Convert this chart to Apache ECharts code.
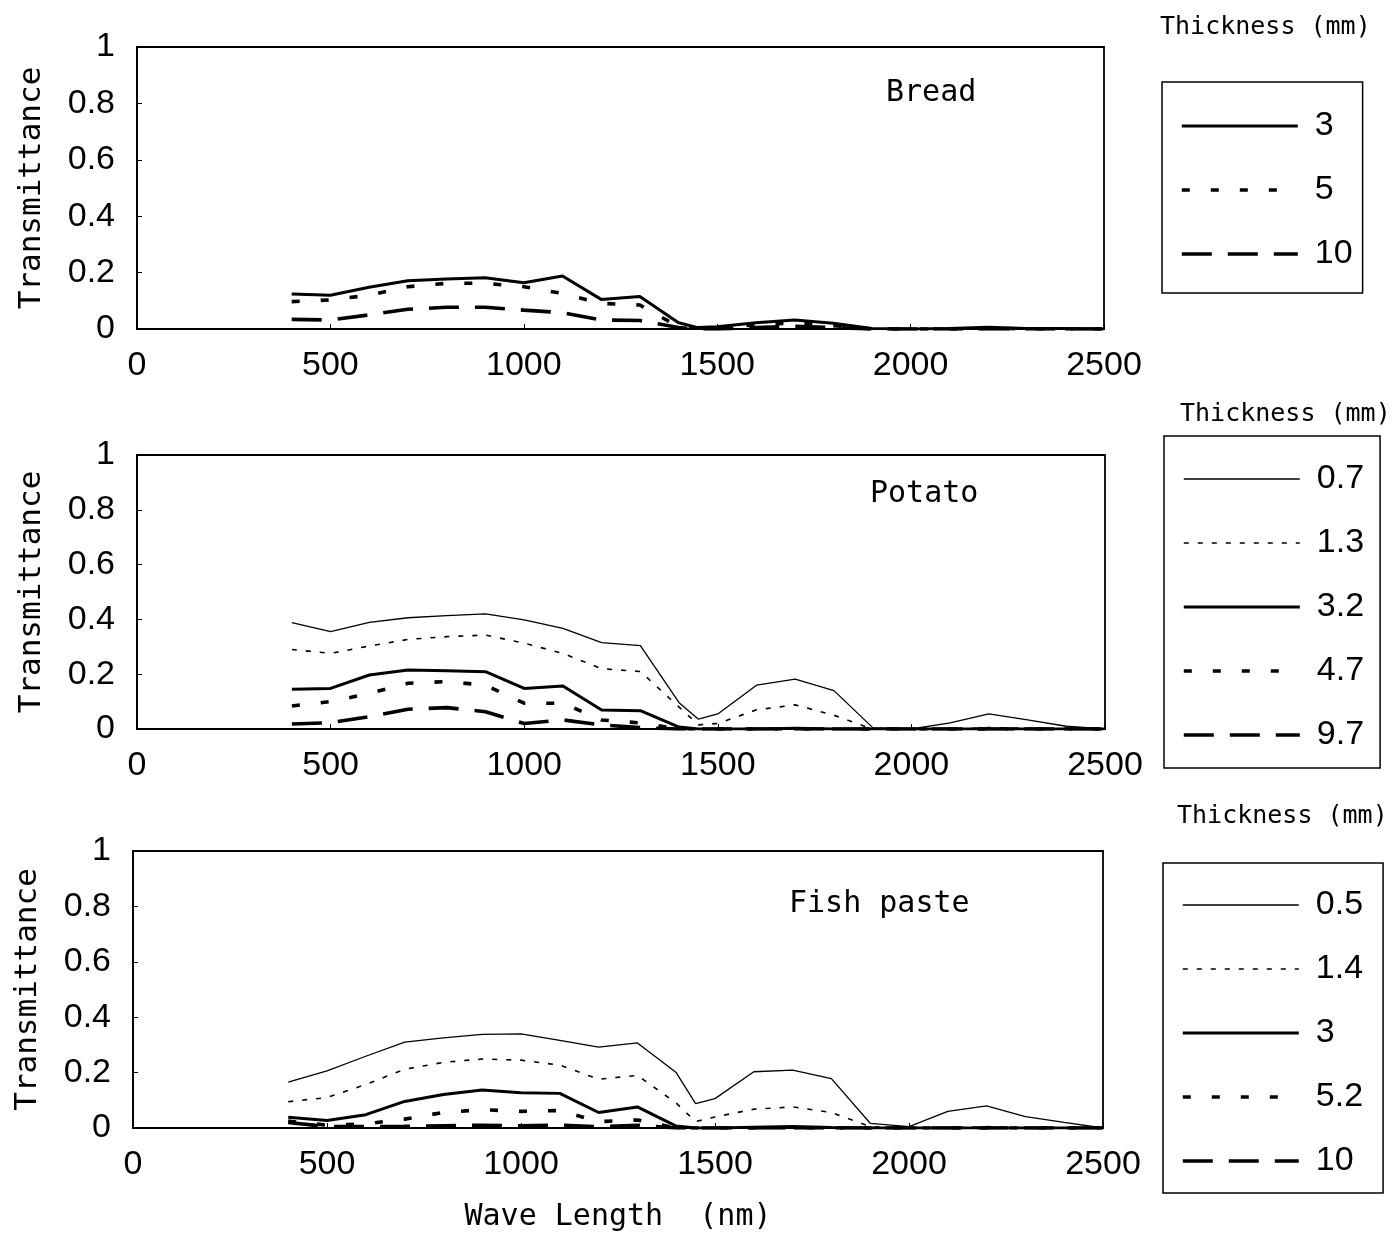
<!DOCTYPE html>
<html>
<head>
<meta charset="utf-8">
<script src="https://cdn.jsdelivr.net/npm/echarts@6/dist/echarts.min.js"></script>
<style>
  html, body { margin: 0; padding: 0; background: #fff; }
  #chart { width: 1400px; height: 1238px; }
</style>
</head>
<body>
<div id="chart"></div>
<script>
// Wavelengths (nm) at which transmittance was measured
const wavelengths = [400, 500, 600, 700, 800, 900, 1000, 1100, 1200, 1300, 1400, 1450, 1500,
                     1600, 1700, 1800, 1900, 2000, 2100, 2200, 2300, 2400, 2500];

// Bread, thickness 3 / 5 / 10 mm
const bread3  = [0.124, 0.120, 0.148, 0.171, 0.177, 0.182, 0.164, 0.188, 0.105, 0.115, 0.022, 0.005, 0.008,
                 0.022, 0.032, 0.020, 0.002, 0.000, 0.002, 0.006, 0.002, 0.002, 0.000];
const bread5  = [0.097, 0.103, 0.120, 0.150, 0.162, 0.162, 0.150, 0.126, 0.091, 0.085, 0.008, 0.003, 0.004,
                 0.015, 0.022, 0.012, 0.000, 0.000, 0.000, 0.003, 0.000, 0.000, 0.000];
const bread10 = [0.034, 0.032, 0.050, 0.070, 0.077, 0.077, 0.067, 0.058, 0.032, 0.030, 0.005, 0.000, 0.000,
                 0.005, 0.010, 0.005, 0.000, 0.000, 0.000, 0.000, 0.000, 0.000, 0.000];

// Potato, thickness 0.7 / 1.3 / 3.2 / 4.7 / 9.7 mm
const potato07 = [0.388, 0.355, 0.389, 0.406, 0.414, 0.420, 0.398, 0.367, 0.315, 0.304, 0.096, 0.036, 0.055,
                  0.160, 0.182, 0.140, 0.005, 0.000, 0.022, 0.055, 0.033, 0.010, 0.000];
const potato13 = [0.290, 0.276, 0.303, 0.327, 0.337, 0.343, 0.313, 0.276, 0.220, 0.210, 0.080, 0.015, 0.020,
                  0.070, 0.088, 0.050, 0.000, 0.000, 0.000, 0.005, 0.003, 0.000, 0.000];
const potato32 = [0.145, 0.148, 0.197, 0.215, 0.213, 0.209, 0.148, 0.157, 0.069, 0.067, 0.007, 0.000, 0.000,
                  0.000, 0.003, 0.000, 0.000, 0.000, 0.000, 0.000, 0.000, 0.000, 0.000];
const potato47 = [0.084, 0.100, 0.130, 0.167, 0.173, 0.160, 0.094, 0.094, 0.033, 0.022, 0.000, 0.000, 0.000,
                  0.000, 0.000, 0.000, 0.000, 0.000, 0.000, 0.000, 0.000, 0.000, 0.000];
const potato97 = [0.018, 0.023, 0.045, 0.072, 0.078, 0.063, 0.020, 0.033, 0.015, 0.005, 0.000, 0.000, 0.000,
                  0.000, 0.000, 0.000, 0.000, 0.000, 0.000, 0.000, 0.000, 0.000, 0.000];

// Fish paste, thickness 0.5 / 1.4 / 3 / 5.2 / 10 mm
const fish05 = [0.166, 0.206, 0.259, 0.310, 0.325, 0.338, 0.340, 0.316, 0.292, 0.307, 0.200, 0.088, 0.106,
                0.203, 0.209, 0.178, 0.017, 0.005, 0.060, 0.080, 0.041, 0.020, 0.000];
const fish14 = [0.095, 0.110, 0.157, 0.212, 0.237, 0.249, 0.245, 0.227, 0.176, 0.190, 0.090, 0.023, 0.040,
                0.068, 0.076, 0.056, 0.005, 0.000, 0.000, 0.005, 0.000, 0.000, 0.000];
const fish3  = [0.039, 0.027, 0.048, 0.096, 0.121, 0.137, 0.127, 0.125, 0.056, 0.076, 0.007, 0.000, 0.000,
                0.003, 0.005, 0.002, 0.000, 0.000, 0.000, 0.000, 0.000, 0.000, 0.000];
const fish52 = [0.025, 0.010, 0.015, 0.032, 0.056, 0.066, 0.060, 0.063, 0.023, 0.029, 0.000, 0.000, 0.000,
                0.000, 0.000, 0.000, 0.000, 0.000, 0.000, 0.000, 0.000, 0.000, 0.000];
const fish10 = [0.020, 0.005, 0.005, 0.006, 0.008, 0.010, 0.008, 0.010, 0.005, 0.010, 0.000, 0.000, 0.000,
                0.000, 0.000, 0.000, 0.000, 0.000, 0.000, 0.000, 0.000, 0.000, 0.000];

// Panel titles and legend labels
const panelTitles = ['Bread', 'Potato', 'Fish paste'];
const breadLabels  = ['3', '5', '10'];
const potatoLabels = ['0.7', '1.3', '3.2', '4.7', '9.7'];
const fishLabels   = ['0.5', '1.4', '3', '5.2', '10'];
const legendTitle = 'Thickness (mm)';
const xAxisTitle = 'Wave Length  (nm)';
const yAxisTitle = 'Transmittance';

// Line looks
const STYLE = {
  thinSolid:  { color: '#000', width: 1.3, type: 'solid' },
  thinDot:    { color: '#000', width: 1.6, type: [5, 9] },
  thickSolid: { color: '#000', width: 3, type: 'solid' },
  thickDash:  { color: '#000', width: 3.6, type: [8, 21] },
  longDash:   { color: '#000', width: 3.6, type: [30, 16] }
};

const WORD_FONT = "'DejaVu Sans Mono', 'Liberation Mono', monospace";
const NUM_FONT = "'Liberation Sans', 'Noto Sans', sans-serif";
const NUM_SIZE = 34;

const panels = [
  { title: panelTitles[0], labels: breadLabels,  values: [bread3, bread5, bread10],
    styles: [STYLE.thickSolid, STYLE.thickDash, STYLE.longDash],
    grid: { left: 137, top: 47, width: 967, height: 282 },
    titlePos: { left: 886, top: 78 }, legendTitlePos: { left: 1160, top: 15 },
    legend: { left: 1162, top: 82, padding: [27, 10, 22, 18] } },
  { title: panelTitles[1], labels: potatoLabels, values: [potato07, potato13, potato32, potato47, potato97],
    styles: [STYLE.thinSolid, STYLE.thinDot, STYLE.thickSolid, STYLE.thickDash, STYLE.longDash],
    grid: { left: 137, top: 455, width: 968, height: 274 },
    titlePos: { left: 870, top: 479 }, legendTitlePos: { left: 1180, top: 402 },
    legend: { left: 1164, top: 436, padding: [26, 16, 16, 18] } },
  { title: panelTitles[2], labels: fishLabels,   values: [fish05, fish14, fish3, fish52, fish10],
    styles: [STYLE.thinSolid, STYLE.thinDot, STYLE.thickSolid, STYLE.thickDash, STYLE.longDash],
    grid: { left: 133, top: 851, width: 970, height: 277 },
    titlePos: { left: 789, top: 889 }, legendTitlePos: { left: 1177, top: 804 },
    legend: { left: 1163, top: 863, padding: [25, 20, 15, 18] } }
];

const grids = [], xAxes = [], yAxes = [], series = [], legends = [], titles = [];

panels.forEach((p, i) => {
  grids.push(Object.assign({ show: true, borderColor: '#000', borderWidth: 1.8, backgroundColor: '#fff' }, p.grid));

  xAxes.push({
    type: 'value', gridIndex: i, min: 0, max: 2500, interval: 500,
    axisLine: { show: true, onZero: false, lineStyle: { color: '#000', width: 1.8 } },
    axisTick: { show: true, inside: true, length: 5, lineStyle: { color: '#000', width: 1 } },
    axisLabel: { color: '#000', fontFamily: NUM_FONT, fontSize: NUM_SIZE, margin: 20,
                 formatter: v => String(v) },
    splitLine: { show: false },
    name: i === panels.length - 1 ? xAxisTitle : '',
    nameLocation: 'middle', nameGap: 74,
    nameTextStyle: { color: '#000', fontFamily: WORD_FONT, fontSize: 30 }
  });

  yAxes.push({
    type: 'value', gridIndex: i, min: 0, max: 1, interval: 0.2,
    axisLine: { show: true, lineStyle: { color: '#000', width: 1.8 } },
    axisTick: { show: true, inside: true, length: 5, lineStyle: { color: '#000', width: 1 } },
    axisLabel: { color: '#000', fontFamily: NUM_FONT, fontSize: NUM_SIZE, margin: 22,
                 formatter: v => String(Math.round(v * 10) / 10) },
    splitLine: { show: false },
    name: yAxisTitle, nameLocation: 'middle', nameRotate: 90, nameGap: 90,
    nameTextStyle: { color: '#000', fontFamily: WORD_FONT, fontSize: 31 }
  });

  const names = p.labels.map(l => p.title + '|' + l);
  p.values.forEach((vals, k) => {
    series.push({
      name: names[k], type: 'line', xAxisIndex: i, yAxisIndex: i,
      symbol: 'none', showSymbol: false, silent: true,
      itemStyle: { color: '#000' },
      lineStyle: p.styles[k],
      data: wavelengths.map((w, j) => [w, vals[j]])
    });
  });

  legends.push({
    data: names, orient: 'vertical', left: p.legend.left, top: p.legend.top,
    padding: p.legend.padding, itemWidth: 116, itemHeight: 14, itemGap: 30,
    borderColor: '#000', borderWidth: 1.5, backgroundColor: '#fff',
    selectedMode: false,
    itemStyle: { opacity: 0 },
    lineStyle: { width: 'inherit' },
    formatter: n => n.split('|')[1],
    textStyle: { color: '#000', fontFamily: NUM_FONT, fontSize: NUM_SIZE, lineHeight: 34, padding: [0, 0, 0, 12] }
  });

  titles.push({
    text: p.title, left: p.titlePos.left, top: p.titlePos.top, padding: 0,
    textStyle: { color: '#000', fontFamily: WORD_FONT, fontSize: 30, fontWeight: 'normal', lineHeight: 30 }
  });
  titles.push({
    text: legendTitle, left: p.legendTitlePos.left, top: p.legendTitlePos.top, padding: 0,
    textStyle: { color: '#000', fontFamily: WORD_FONT, fontSize: 25, fontWeight: 'normal', lineHeight: 25 }
  });
});

const chart = echarts.init(document.getElementById('chart'), null, { renderer: 'canvas' });
chart.setOption({
  animation: false,
  backgroundColor: '#fff',
  title: titles,
  grid: grids,
  xAxis: xAxes,
  yAxis: yAxes,
  legend: legends,
  series: series
});
</script>
</body>
</html>
